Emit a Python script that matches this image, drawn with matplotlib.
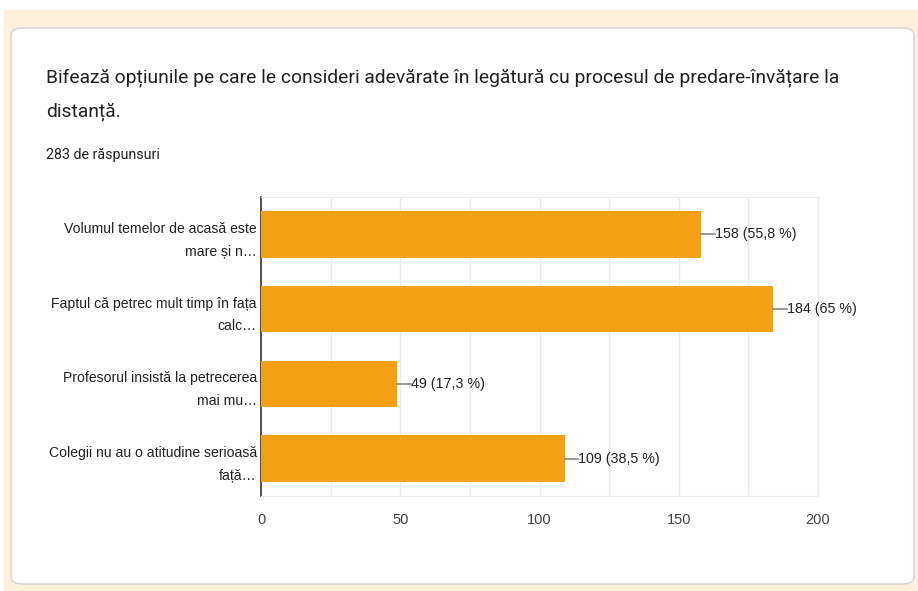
import matplotlib.pyplot as plt
from matplotlib.patches import FancyBboxPatch, Rectangle

categories = ['Volumul temelor de acasă este\nmare și n…',
              'Faptul că petrec mult timp în fața\ncalc…',
              'Profesorul insistă la petrecerea\nmai mu…',
              'Colegii nu au o atitudine serioasă\nfață…']
values = [158, 184, 49, 109]
labels = ['158 (55,8 %)', '184 (65 %)', '49 (17,3 %)', '109 (38,5 %)']

plt.rcParams['font.family'] = ['Liberation Sans', 'DejaVu Sans']

fig = plt.figure(figsize=(9.18, 5.91), dpi=100)
W, H = 918, 591

# page background and card
fig.patches.append(Rectangle((4 / W, 0), 1, 1 - 10 / H, transform=fig.transFigure,
                             color='#fdf0dc', zorder=0))
fig.patches.append(FancyBboxPatch((11 / W, 7 / H), 903 / W, 556 / H,
                                  boxstyle='round,pad=0,rounding_size=0.012',
                                  transform=fig.transFigure, facecolor='white',
                                  edgecolor='#d8d8d8', linewidth=1.2, zorder=1))

fig.text(46 / W, 1 - 78 / H, 'Bifează opțiunile pe care le consideri adevărate în legătură cu procesul de predare-învățare la',
         fontsize=13.9, color='#202124', va='center', family=['Roboto', 'DejaVu Sans'])
fig.text(46 / W, 1 - 112 / H, 'distanță.',
         fontsize=13.9, color='#202124', va='center', family=['Roboto', 'DejaVu Sans'])
fig.text(46 / W, 1 - 155 / H, '283 de răspunsuri',
         fontsize=10.3, color='#202124', va='center', family=['Roboto', 'DejaVu Sans'])

ax = fig.add_axes([261 / W, 1 - 496 / H, 557 / W, 299 / H])
ax.set_zorder(2)
ax.patch.set_alpha(0)

y = list(range(len(categories)))
ax.barh(y, values, height=0.62, color='#f4a015', zorder=3)
ax.set_ylim(len(categories) - 0.5, -0.5)
ax.set_xlim(0, 200)

for yi, v, lab in zip(y, values, labels):
    ax.plot([v, v + 5], [yi, yi], color='#888888', lw=1.2, zorder=3)
    ax.text(v + 5, yi, lab, va='center', ha='left', fontsize=10.3, color='#222222')

ax.set_xticks([0, 50, 100, 150, 200])
ax.set_xticks([25, 75, 125, 175], minor=True)
ax.grid(axis='x', which='both', color='#ebebeb', lw=1, zorder=0)
ax.set_yticks(y)
ax.set_yticklabels(categories, fontsize=10.1, color='#222222', linespacing=1.8)
ax.tick_params(axis='both', which='both', length=0, pad=3)
ax.tick_params(axis='x', labelsize=10.5, labelcolor='#444444', pad=12)
for s in ['top', 'right', 'bottom']:
    ax.spines[s].set_color('#ebebeb')
ax.spines['left'].set_color('#333333')
ax.spines['left'].set_linewidth(1.2)

fig.savefig('out.png', dpi=100)
